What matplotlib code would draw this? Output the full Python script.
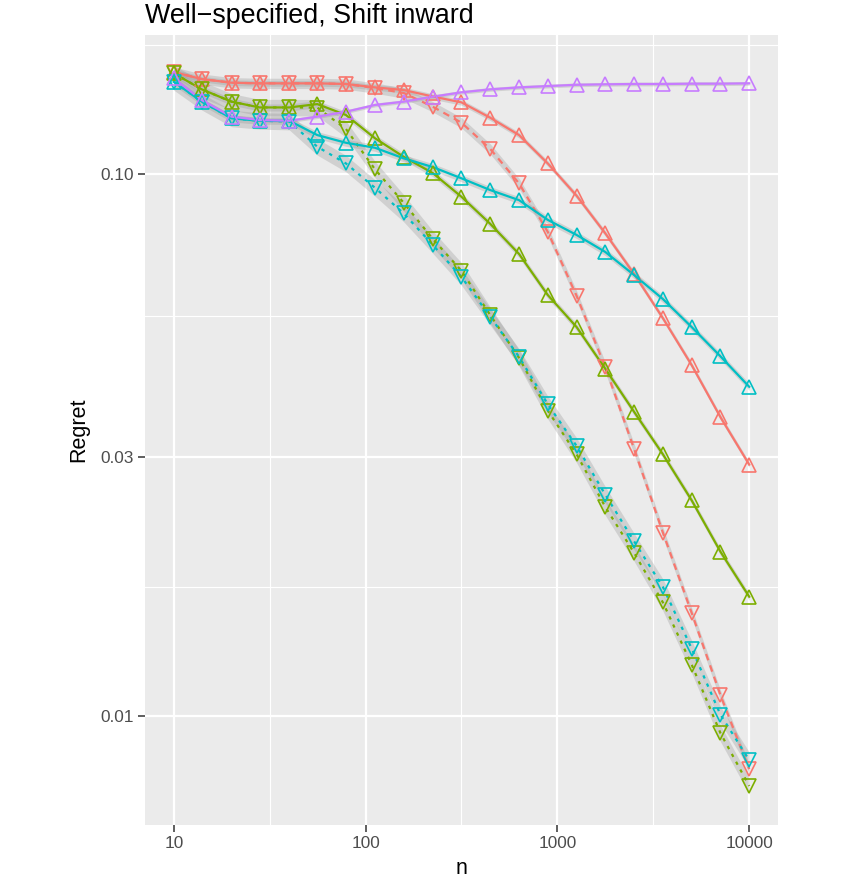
import numpy as np
import matplotlib
matplotlib.use("Agg")
import matplotlib.pyplot as plt
from matplotlib.ticker import FixedLocator, NullFormatter

plt.rcParams['font.family'] = ['Liberation Sans', 'DejaVu Sans']

# data ======================================================================
n = [10, 14, 20, 28, 40, 56, 79, 112, 158, 224, 316, 447, 631, 891,
     1259, 1778, 2512, 3548, 5012, 7079, 10000]

red_solid = [0.1542, 0.1497, 0.1474, 0.1470, 0.1470, 0.1470, 0.1466, 0.1445,
             0.1429, 0.1390, 0.1356, 0.1270, 0.1180, 0.1046, 0.0912, 0.0777,
             0.0654, 0.0542, 0.0444, 0.0356, 0.0291]
red_dashed = [0.1542, 0.1497, 0.1474, 0.1470, 0.1470, 0.1470, 0.1466, 0.1441,
              0.1411, 0.1331, 0.1244, 0.1112, 0.0961, 0.0782, 0.0596, 0.0440,
              0.0311, 0.0218, 0.0155, 0.01093, 0.00798]
green_solid = [0.1534, 0.1433, 0.1360, 0.1327, 0.1327, 0.1346, 0.1285, 0.1164,
               0.1076, 0.1004, 0.0908, 0.0809, 0.0712, 0.0598, 0.0522, 0.0437,
               0.0364, 0.0304, 0.0250, 0.0201, 0.0166]
green_dashed = [0.1534, 0.1433, 0.1360, 0.1327, 0.1327, 0.1326, 0.1211, 0.1020,
                0.0885, 0.0759, 0.0663, 0.0549, 0.0458, 0.0366, 0.0304, 0.0243,
                0.0200, 0.0162, 0.01244, 0.00930, 0.00743]
cyan_solid = [0.1480, 0.1360, 0.1267, 0.1254, 0.1254, 0.1180, 0.1142, 0.1118,
              0.1069, 0.1030, 0.0982, 0.0934, 0.0895, 0.0823, 0.0772, 0.0718,
              0.0651, 0.0588, 0.0522, 0.0461, 0.0405]
cyan_dashed = [0.1480, 0.1360, 0.1267, 0.1254, 0.1250, 0.1123, 0.1046, 0.0943,
               0.0846, 0.0740, 0.0646, 0.0545, 0.0460, 0.0376, 0.0315, 0.0256,
               0.0210, 0.0173, 0.01332, 0.01006, 0.00829]
purple_solid = [0.1502, 0.1369, 0.1276, 0.1258, 0.1254, 0.1276, 0.1303, 0.1341,
                0.1360, 0.1389, 0.1415, 0.1433, 0.1445, 0.1453, 0.1461, 0.1464,
                0.1466, 0.1466, 0.1468, 0.1468, 0.1470]

# relative half-width of the grey band around each curve
band = [0.012, 0.022, 0.015, 0.035, 0.015, 0.035, 0.008]

y_ticks = [0.01, 0.03, 0.10]
y_tick_labels = ["0.01", "0.03", "0.10"]
x_ticks = [10, 100, 1000, 10000]
x_tick_labels = ["10", "100", "1000", "10000"]

# styles ====================================================================
RED, GREEN, CYAN, PURPLE = "#F8766D", "#7CAE00", "#00BFC4", "#C77CFF"
series = [
    (red_solid, RED, "^", None),
    (red_dashed, RED, "v", (3.0, 2.4)),
    (green_solid, GREEN, "^", None),
    (green_dashed, GREEN, "v", (1.5, 2.5)),
    (cyan_solid, CYAN, "^", None),
    (cyan_dashed, CYAN, "v", (1.5, 2.5)),
    (purple_solid, PURPLE, "^", None),
]

fig = plt.figure(figsize=(8.44, 8.82), dpi=100)
fig.subplots_adjust(left=0.1718, right=0.9218, bottom=0.0646, top=0.9603)
ax = fig.add_subplot(111)
ax.set_facecolor("#EBEBEB")
for s in ax.spines.values():
    s.set_visible(False)

ax.set_xscale("log")
ax.set_yscale("log")
ax.set_xlim(10 ** 0.85, 10 ** 4.15)
ax.set_ylim(10 ** -2.2011, 10 ** -0.7435)

# grid
ax.xaxis.set_major_locator(FixedLocator(x_ticks))
ax.yaxis.set_major_locator(FixedLocator(y_ticks))
ax.xaxis.set_minor_locator(FixedLocator([10 ** 1.5, 10 ** 2.5, 10 ** 3.5]))
ax.yaxis.set_minor_locator(FixedLocator([np.sqrt(0.01 * 0.03), np.sqrt(0.03 * 0.1),
                                         np.sqrt(0.1 * 0.3)]))
ax.xaxis.set_minor_formatter(NullFormatter())
ax.yaxis.set_minor_formatter(NullFormatter())
ax.set_xticklabels(x_tick_labels)
ax.set_yticklabels(y_tick_labels)
ax.grid(which="major", color="white", lw=1.6)
ax.grid(which="minor", color="white", lw=0.8)
ax.set_axisbelow(True)
ax.tick_params(which="minor", length=0)
ax.tick_params(which="major", length=5, width=1.1, color="#333333",
               labelsize=12.4, labelcolor="#4D4D4D", pad=3)

x = np.array(n)
for (vals, col, mk, dash), b in zip(series, band):
    v = np.array(vals)
    ax.fill_between(x, v * (1 - b), v * (1 + b), color="#999999", alpha=0.32,
                    lw=0, zorder=2)
for vals, col, mk, dash in series:
    line, = ax.plot(x, vals, color=col, lw=1.6, zorder=3)
    if dash is not None:
        line.set_dashes(dash)
for vals, col, mk, dash in series:
    ax.plot(x, vals, ls="none", marker=mk, ms=9.5, mfc="none", mec=col,
            mew=1.2, zorder=4)

ax.set_xlabel("n", fontsize=15.5, labelpad=5)
ax.set_ylabel("Regret", fontsize=15.5, labelpad=8)
# the title sits right at the top edge, as in the original
fig.text(145 / 844, 1 - 23 / 882, "Well\u2212specified, Shift inward",
         fontsize=19.4, ha="left", va="baseline")

fig.savefig("out.png", dpi=100)
